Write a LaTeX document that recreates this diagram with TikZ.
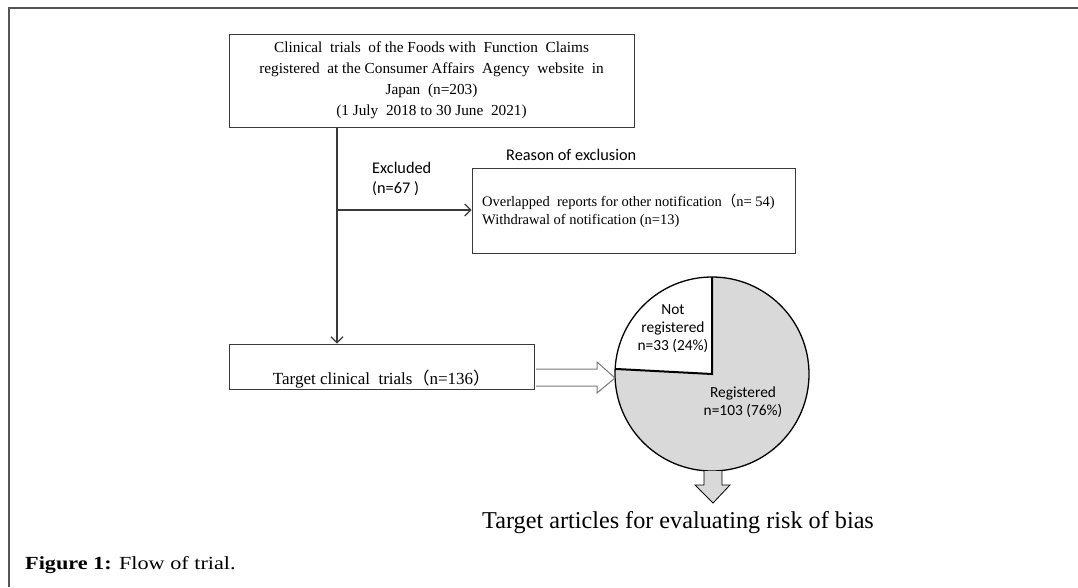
\documentclass[tikz,border=0pt]{standalone}
\usepackage{fontspec}
\setmainfont{Liberation Serif}
\newfontfamily\calib{Carlito}
\newfontfamily\cjk{Noto Sans CJK JP}
\newfontfamily\widecap[FakeStretch=1.2]{Liberation Serif}
\usetikzlibrary{arrows.meta}
\definecolor{framegray}{HTML}{555555}
\definecolor{linegray}{HTML}{3A3A3A}
\definecolor{piegray}{HTML}{D9D9D9}
\definecolor{arrowgray}{HTML}{7A7A7A}
\begin{document}
\begin{tikzpicture}[x=1pt,y=-1pt,
  boxstyle/.style={draw=linegray,line width=1pt,rectangle,inner sep=0pt},
  serif/.style={font=\fontsize{15.3}{21}\selectfont},
  sanslabel/.style={font=\calib\fontsize{16.3}{20}\selectfont,inner sep=0pt},
  pielabel/.style={font=\calib\fontsize{15.4}{18}\selectfont,inner sep=0pt},
  connector/.style={draw=linegray,line width=1.1pt,-{Straight Barb[length=6pt,width=12pt,line width=1.1pt]}}]
\useasboundingbox (0,0) rectangle (1078,587);
% outer frame
\draw[framegray,line width=2pt] (8.5,587) -- (8.5,7.5) -- (1078,7.5);
% top box
\node[boxstyle,minimum width=405pt,minimum height=93pt,serif,align=center] (top) at (431.5,80.5)
 {Clinical\ \ trials\ \ of the Foods with\ \ Function\ \ Claims\\
  registered\ \ at the Consumer Affairs\ \ Agency\ \ website\ \ in\\
  Japan\ \ (n=203)\\
  (1 July\ \ 2018 to 30 June\ \ 2021)};
% exclusion box
\node[boxstyle,minimum width=323pt,minimum height=85pt] (excl) at (633.5,210.5) {};
\node[anchor=west,align=left,inner sep=0pt,font=\fontsize{14.5}{18}\selectfont] (excltext) at (482,211)
 {Overlapped\ \ reports for other notification{\cjk （}n= 54)\\
  Withdrawal of notification (n=13)};
\node[sanslabel,anchor=west] (reason) at (506,155) {Reason of exclusion};
\node[sanslabel,anchor=north west,align=left] (excluded) at (372,162) {Excluded\\(n=67 )};
% target box
\node[boxstyle,minimum width=305pt,minimum height=45pt] (target) at (381.5,366.5) {};
\node[anchor=base,inner sep=0pt,font=\fontsize{17}{20}\selectfont] (targettext) at (381.5,384)
 {Target clinical\ \ trials{\cjk （}n=136{\cjk ）}};
% connectors
\draw[connector] (top.south -| 337,0) -- (target.north -| 337,0);
\draw[connector] (337,210) -- (excl.west |- 0,210);
% pie
\coordinate (pc) at (712,374);
\fill[piegray] (pc) circle[radius=97];
\fill[white] (pc) -- ++(0,-97) arc[start angle=-90,end angle=-177,radius=97] -- cycle;
\draw[black,line width=1.3pt] (pc) circle[radius=97];
\draw[black,line width=2pt] (712,277) -- (pc) -- ++(-177:97);
\node[pielabel,align=center] (notreg) at (673,329) {Not\\registered\\n=33 (24\%)};
\node[pielabel,align=center] (reg) at (743,402) {Registered\\n=103 (76\%)};
% hollow arrow
\draw[arrowgray,fill=white,line width=1pt] (536,369) -- (597,369) -- (597,362) -- (615,378) -- (597,393) -- (597,386) -- (536,386);
% down arrow
\draw[black,fill=piegray,line width=0.8pt] (704,471) -- (704,485) -- (695,485) -- (713,503) -- (730,485) -- (722,485) -- (722,471);
\node[anchor=base west,inner sep=0pt,font=\fontsize{24.2}{28}\selectfont] (articles) at (482,528)
 {Target articles for evaluating risk of bias};
% caption
\node[anchor=base west,inner sep=0pt,font=\widecap\fontsize{18.5}{22}\selectfont] (caption) at (25,569)
 {\textbf{Figure 1:} Flow of trial.};
\end{tikzpicture}
\end{document}
